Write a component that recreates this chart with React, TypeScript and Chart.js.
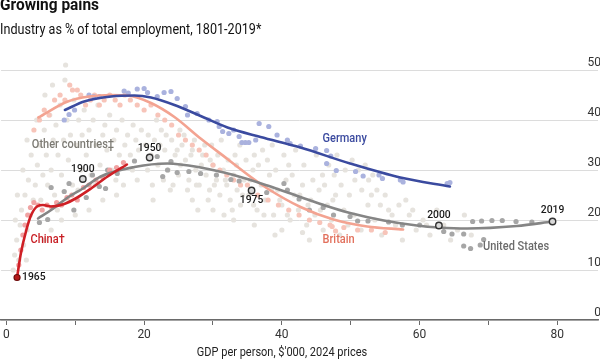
import React, { useEffect, useRef } from "react";
import { Chart, registerables } from "chart.js";

Chart.register(...registerables);

// ---------- data ----------
const xTickLabels = [0, 20, 40, 60, 80];
const yTickLabels = [0, 10, 20, 30, 40, 50];

// smoothed trend lines [gdp per person $'000, industry % of employment]
const germanyLine = [[8.5, 42], [11.3, 43.7], [15.2, 44.7], [18.6, 44.9], [21, 44.5], [24.4, 43], [28.2, 40.8], [32.1, 38.5], [36.9, 36.6], [42.7, 34.5], [49.9, 31.3], [57.2, 28.5], [64.4, 26.7]];
const britainLine = [[4.64, 40.5], [8.9, 43.7], [12, 44.7], [15.2, 45], [17.6, 44.9], [21, 43.4], [24.4, 40.6], [28.2, 36.3], [32.1, 32.2], [35.5, 28.6], [37.9, 26.3], [42.7, 22.6], [47.5, 20.1], [52.4, 18.7], [57.6, 18.1]];
const usLine = [[4.6, 20.3], [6.5, 22], [8.9, 24.5], [11.1, 26.3], [13.7, 28.7], [18.6, 30.6], [23.4, 31.3], [28.2, 30.5], [33, 29], [37.9, 26.9], [42.7, 24.6], [46.5, 22.8], [49.9, 21.4], [54.8, 19.9], [59.6, 18.9], [62.8, 18.5], [66.9, 18.3], [74.1, 18.8], [79.3, 19.7]];
const chinaLine = [[1.55, 8.5], [2.1, 13.3], [2.9, 18], [3.6, 21], [4.55, 22.8], [5.3, 23], [6.5, 22.7], [8.4, 23.2], [10.3, 24.5], [12.3, 26.3], [14.7, 28.7], [17.5, 31.1]];

// annual observations
const otherDots = [
  [1.0, 10], [1.2, 13], [1.5, 16], [1.8, 12], [2.0, 19], [2.2, 22], [2.5, 15], [2.7, 25], [3.0, 18], [3.2, 28], [3.5, 21], [3.6, 33], [3.9, 24], [1.3, 20], [2.4, 30], [3.0, 36], [1.6, 25], [2.9, 12],
  [4.2, 27], [4.5, 31], [4.8, 35], [5.0, 24], [5.3, 29], [5.5, 38], [5.8, 33], [6.0, 27], [6.3, 41], [6.5, 30], [6.8, 36], [7.0, 25], [7.2, 39], [7.5, 33], [7.8, 43], [8.0, 29], [8.3, 36], [8.5, 48], [8.6, 51], [8.8, 40], [9.0, 32], [9.3, 37], [9.6, 27], [9.8, 44], [4.4, 40], [5.6, 45], [6.7, 47], [7.4, 22], [8.9, 24],
  [10.2, 35], [10.5, 40], [10.8, 30], [11.0, 37], [11.3, 42], [11.6, 33], [12.0, 38], [12.3, 29], [12.6, 40], [13.0, 35], [13.3, 43], [13.6, 31], [14.0, 37], [14.3, 39], [14.6, 34], [15.0, 41], [15.3, 30], [15.6, 36], [16.0, 38], [16.4, 33], [16.8, 40], [17.2, 35], [17.6, 37], [18.0, 33], [18.4, 39], [18.8, 36], [19.2, 34], [19.6, 38], [10.4, 26], [12.9, 27], [15.9, 28], [18.3, 30],
  [20.2, 35], [20.6, 37], [21.0, 33], [21.5, 36], [22.0, 31], [22.5, 38], [23.0, 34], [23.5, 30], [24.0, 36], [24.5, 33], [25.0, 29], [25.5, 35], [26.0, 32], [26.5, 28], [27.0, 34], [27.5, 30], [28.0, 27], [28.5, 33], [29.0, 29], [29.5, 26], [30.0, 31], [30.5, 28], [31.0, 25], [31.5, 30], [32.0, 27], [32.5, 24], [33.0, 29], [33.5, 26], [34.0, 23], [34.5, 28], [21.8, 40], [25.2, 38], [29.8, 35], [33.2, 33], [27.8, 22], [31.6, 21],
  [35.2, 25], [35.8, 30], [36.4, 22], [37.0, 27], [37.6, 24], [38.2, 29], [38.8, 21], [39.4, 26], [40.0, 23], [40.6, 28], [41.2, 20], [41.8, 25], [42.4, 22], [43.0, 27], [43.6, 19], [44.2, 24], [44.8, 21], [45.4, 26], [46.0, 18], [46.6, 23], [47.2, 20], [47.8, 25], [48.4, 17], [49.0, 22], [49.6, 19], [36.0, 33], [41.0, 31], [45.9, 29], [39.0, 17], [44.0, 16],
  [50.5, 21], [51.5, 18], [52.5, 23], [53.5, 20], [54.5, 17], [55.5, 22], [56.5, 19], [57.5, 16], [58.5, 21], [59.5, 18], [60.5, 20], [61.5, 17], [62.5, 22], [63.5, 19], [64.5, 16], [65.5, 18], [66.5, 21], [67.5, 17], [53.0, 25], [58.0, 24],
  [20.5, 30], [21.2, 27], [22.3, 35], [22.8, 28], [23.2, 37], [24.2, 27], [24.8, 34], [25.3, 31], [25.8, 37], [26.3, 26], [26.8, 33], [27.3, 36], [27.6, 27], [28.3, 31], [28.8, 35], [29.3, 24], [29.6, 32], [30.2, 27], [30.7, 33], [31.2, 36], [31.8, 28], [32.2, 32], [32.8, 22], [33.4, 31], [33.9, 35], [34.3, 25], [34.8, 32], [35.4, 28], [35.9, 23], [36.6, 31], [37.2, 34], [37.4, 21], [37.9, 32], [38.5, 26], [38.6, 35], [39.1, 30], [39.7, 24], [40.3, 33], [40.8, 21], [41.5, 29], [42.0, 34], [42.6, 25], [43.2, 31], [43.8, 23], [44.5, 28], [45.0, 33], [45.6, 22], [46.2, 27], [46.8, 31], [47.4, 24], [47.6, 29], [48.0, 33], [48.6, 27], [49.2, 30], [49.8, 25], [50.2, 32], [50.6, 28], [51.1, 30], [51.6, 26], [52.1, 31], [52.6, 28], [53.2, 29], [53.8, 26], [54.3, 23], [55.0, 25], [56.0, 21], [57.0, 23], [59.0, 22], [61.0, 19],
  [27.0, 24], [30.0, 22], [33.0, 20], [36.0, 19], [40.0, 18], [43.0, 17.5], [23.8, 26], [21.3, 24], [19.0, 28], [17.0, 27], [16.0, 25], [14.0, 24], [12.0, 22], [10.0, 21], [8.0, 20], [6.5, 18], [5.5, 16],
];
const britainDots = [
  [4.0, 38], [4.8, 40], [5.5, 42], [6.2, 41], [7.0, 44], [7.8, 45], [8.5, 44], [9.2, 47], [9.6, 46], [10.3, 46], [10.8, 45], [11.5, 43], [12.2, 44], [12.8, 45], [13.5, 43], [14.2, 44], [15.0, 45], [15.8, 44], [16.5, 43], [17.2, 45], [18.0, 44], [19.0, 43], [20.0, 42], [21.0, 43], [22.0, 41], [23.0, 40], [24.0, 39], [25.0, 37], [26.0, 36], [27.0, 35], [28.0, 34], [29.0, 33], [30.0, 31], [31.0, 30], [32.0, 29], [33.0, 28], [34.0, 27], [35.0, 27], [36.5, 25], [38.0, 24], [39.5, 23], [41.0, 22], [42.5, 21], [44.0, 20], [45.5, 19.5], [47.0, 19], [49.0, 18.5], [51.0, 18], [53.0, 18], [55.0, 17.5], [47.3, 18.7], [47.8, 17.8],
];
const germanyDots = [
  [8.4, 40], [9.1, 41.1], [9.9, 42], [12, 45], [12.7, 44.7], [13.5, 44.7], [17.1, 45.8], [17.7, 45.4], [19, 46.2], [20, 46.3], [20.5, 45.5], [21.9, 44.7], [22.9, 45.5], [23.9, 45.7], [24.8, 44.3], [26, 42.7], [26.3, 41], [27.7, 41.3], [29.4, 40], [30.6, 39.7], [30.9, 38.7], [31.4, 37.7], [32.3, 37.3], [33, 38], [33.8, 36.7], [34.2, 35.5], [34.7, 35.5], [35.2, 35.5], [36.2, 36], [36.7, 39.3], [38.1, 38.7], [39.3, 37], [40.8, 36], [41.2, 35.3], [42.7, 34.8], [44.9, 34.3], [46.5, 33.9], [47.1, 32.8], [46.5, 31.3], [47.9, 29.9], [50.7, 29.7], [51.8, 28.8], [54.1, 29], [54.6, 28.3], [57.2, 28], [57.6, 27.6], [64, 27.3], [64.4, 27.5],
];
const usDots = [
  [4.8, 19.5], [6.0, 20.1], [6.5, 26.5], [8.4, 25.7], [9.1, 27.3], [9.8, 22], [11.6, 24.5], [12.5, 29], [13.5, 26.7], [14.4, 26.3], [14.7, 30], [16.1, 29.3], [18.6, 31.8], [21.9, 32.7], [22.7, 28.7], [23.4, 30], [23.9, 31.7], [24.8, 29.5], [26.5, 29.7], [28.2, 29.3], [30.5, 29], [32.6, 28.1], [33.8, 27.8], [37.8, 25.5], [40.3, 27.3], [40.8, 26], [42.5, 24.2], [44.0, 22], [46.0, 22.5], [47.5, 21], [49.9, 20.7], [51.0, 19.8], [52.5, 19.8], [55.5, 19.6], [57.5, 19.0], [60.0, 19.0], [63.5, 17.7], [64.7, 17.2], [66.4, 17.2], [67.7, 19.7], [69.0, 19.8], [70.5, 19.9], [72.0, 19.9], [74.0, 19.7], [76.3, 19.6], [69.3, 16.1], [68.8, 15], [66.4, 14.8], [67.4, 14.3],
];
const chinaDots = [
  [1.8, 11], [2.1, 14], [2.4, 17], [2.7, 19], [3.1, 21], [3.5, 22.5], [4.0, 23.5], [4.6, 23], [5.2, 22], [5.9, 23], [6.6, 22.5], [7.3, 23.5], [8.0, 23], [8.8, 24.5], [9.5, 25], [10.3, 24], [11.2, 26.5], [12.0, 27], [13.0, 28], [14.0, 28.5], [15.0, 30], [16.0, 30.5], [17.0, 31.5],
];

// highlighted years
const yearLabels = ["1900", "1950", "1975", "2000", "2019"];
const yearPoints = [[11.1, 28.2], [20.8, 32.5], [35.6, 25.9], [62.8, 18.9], [79.3, 19.7]];
const chinaStartLabel = "1965";
const chinaStartPoint = [1.55, 8.5];

const seriesNames = ["Germany", "Britain", "United States", "Other countries\u2021", "China\u2020"];

// ---------- helpers ----------
const pts = (a: number[][]) => a.map(([x, y]) => ({ x, y }));
const FONT = "Roboto, 'DejaVu Sans', sans-serif";

function drawText(ctx: CanvasRenderingContext2D, text: string, x: number, y: number, color: string, font: string, align: CanvasTextAlign, sx = 0.9) {
  ctx.save();
  ctx.font = font;
  ctx.fillStyle = color;
  ctx.textBaseline = "middle";
  ctx.textAlign = align;
  ctx.translate(x, y);
  ctx.scale(sx, 1);
  ctx.fillText(text, 0, 0);
  ctx.restore();
}

const labelPlugin = {
  id: "labelPlugin",
  afterDatasetsDraw(chart: any) {
    const { ctx, scales } = chart;
    const px = (v: number) => scales.x.getPixelForValue(v);
    const py = (v: number) => scales.y.getPixelForValue(v);
    const sFont = `500 12.5px ${FONT}`;
    // series labels (anchors in data units)
    drawText(ctx, seriesNames[0], px(45.9), py(36.2), "#3b4a9f", sFont, "left", 0.88);
    drawText(ctx, seriesNames[1], px(45.9), py(16.1), "#e2705c", sFont, "left", 0.88);
    drawText(ctx, seriesNames[2], px(69.2), py(14.7), "#6b6b6b", sFont, "left", 0.88);
    drawText(ctx, seriesNames[3], px(3.7), py(35), "#7d7b74", sFont, "left", 0.88);
    drawText(ctx, seriesNames[4], px(3.5), py(16.1), "#c81e24", sFont, "left", 0.88);
    // year annotations
    const yFont = `500 11.5px ${FONT}`;
    const offs = [-10, -9, 10, -10, -11.5];
    yearPoints.forEach(([x, y], i) => {
      drawText(ctx, yearLabels[i], px(x), py(y) + offs[i], "#1a1a1a", yFont, "center");
    });
    drawText(ctx, chinaStartLabel, px(chinaStartPoint[0]) + 5, py(chinaStartPoint[1]), "#1a1a1a", yFont, "left");
    // x axis title
    drawText(ctx, "GDP per person, $'000, 2024 prices", 282, 353, "#222", `400 12.5px ${FONT}`, "center", 0.88);
  },
};

export default function App() {
  const ref = useRef<HTMLCanvasElement | null>(null);
  useEffect(() => {
    document.body.style.margin = "0";
    const canvas = ref.current;
    if (!canvas) return;
    const dotDs = (data: number[][], color: string, order: number) => ({
      type: "scatter" as const,
      data: pts(data),
      pointRadius: 2.6,
      pointBorderWidth: 0,
      pointBackgroundColor: color,
      showLine: false,
      order,
    });
    const lineDs = (data: number[][], color: string, order: number) => ({
      type: "scatter" as const,
      data: pts(data),
      pointRadius: 0,
      showLine: true,
      borderColor: color,
      borderWidth: 2.6,
      cubicInterpolationMode: "monotone" as const,
      borderCapStyle: "round" as const,
      fill: false,
      order,
    });
    const chart = new Chart(canvas, {
      type: "scatter",
      data: {
        datasets: [
          {
            type: "scatter",
            data: pts(yearPoints),
            pointRadius: 3.2,
            pointBorderWidth: 1.4,
            pointBorderColor: "#333",
            pointBackgroundColor: "#d9d9d9",
            showLine: false,
            order: 0,
          },
          {
            type: "scatter",
            data: pts([chinaStartPoint]),
            pointRadius: 3,
            pointBorderWidth: 1.2,
            pointBorderColor: "#6e0d0d",
            pointBackgroundColor: "#b51a1a",
            showLine: false,
            order: 0,
          },
          lineDs(chinaLine, "#cf1f25", 1),
          lineDs(usLine, "#858585", 2),
          lineDs(germanyLine, "#3a4a9f", 3),
          lineDs(britainLine, "#f3a391", 4),
          dotDs(chinaDots, "#f0a3a3", 5),
          dotDs(usDots, "#a6a6a6", 6),
          dotDs(germanyDots, "#aab2de", 7),
          dotDs(britainDots, "#f7c4b9", 8),
          dotDs(otherDots, "#e6e3de", 9),
        ] as any,
      },
      options: {
        animation: false,
        responsive: false,
        events: [],
        layout: { padding: { top: 45, right: 2, left: 0, bottom: 0 }, autoPadding: false } as any,
        plugins: { legend: { display: false }, tooltip: { enabled: false } },
        scales: {
          x: {
            type: "linear",
            min: -0.77,
            max: 85.9,
            afterFit: (s: any) => { s.height = 41; },
            border: { display: true, color: "#6a6a6a", width: 1.5 },
            grid: { drawOnChartArea: false, drawTicks: true, tickLength: 5, tickColor: "#6a6a6a", tickWidth: 1 },
            ticks: {
              stepSize: 10,
              includeBounds: false,
              autoSkip: false,
              maxRotation: 0,
              padding: 3,
              color: "#333",
              font: { family: FONT, size: 12 },
              callback: (v: any) => (xTickLabels.includes(Number(v)) ? String(v) : ""),
            },
          },
          y: {
            type: "linear",
            position: "right",
            min: 0,
            max: 55,
            afterFit: (s: any) => { s.width = 0; },
            border: { display: false },
            grid: { color: "#dcdcdc", lineWidth: 1, drawTicks: false },
            ticks: {
              stepSize: 10,
              includeBounds: false,
              mirror: true,
              padding: 3,
              labelOffset: -7,
              color: "#333",
              font: { family: FONT, size: 12 },
              callback: (v: any) => (yTickLabels.includes(Number(v)) ? String(v) : ""),
            },
          },
        },
      } as any,
      plugins: [labelPlugin],
    });
    return () => chart.destroy();
  }, []);

  return (
    <div style={{ position: "relative", width: 600, height: 361, overflow: "hidden", background: "#fff" }}>
      <canvas ref={ref} width={600} height={361} style={{ position: "absolute", left: 0, top: 0 }} />
      <div style={{ position: "absolute", left: 0, top: -3.5, fontFamily: FONT, fontWeight: 700, fontSize: 16, lineHeight: "16px", color: "#111", whiteSpace: "nowrap", transform: "scaleX(0.965)", transformOrigin: "left top" }}>
        Growing pains
      </div>
      <div style={{ position: "absolute", left: 0, top: 22, fontFamily: FONT, fontWeight: 400, fontSize: 14, lineHeight: "14px", color: "#111", whiteSpace: "nowrap", transform: "scaleX(0.9)", transformOrigin: "left top" }}>
        Industry as % of total employment, 1801-2019*
      </div>
    </div>
  );
}
